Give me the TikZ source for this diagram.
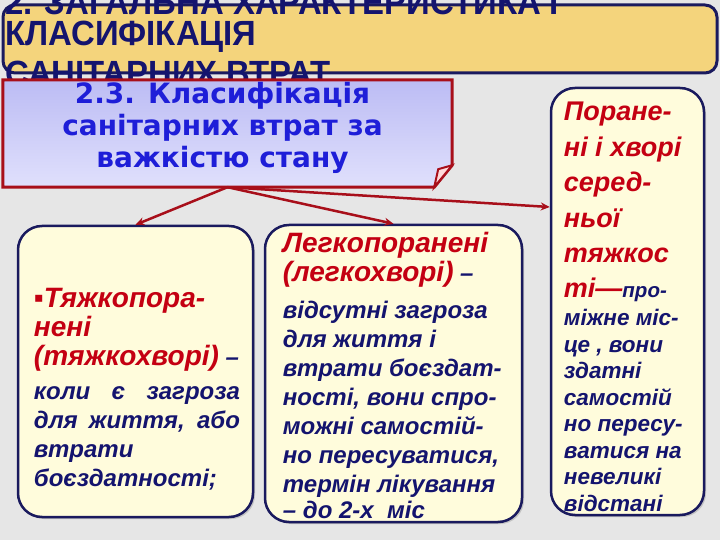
\documentclass[tikz,border=0pt]{standalone}
\usepackage{fontspec}
\usepackage{xcolor}
\usetikzlibrary{arrows.meta,calc,shadows}
\setmainfont{Liberation Sans}
\newfontfamily\titlefont[FakeStretch=0.94]{Liberation Sans}
\newfontfamily\headfont{DejaVu Sans}
\definecolor{bgray}{HTML}{E6E6E6}
\definecolor{gold}{HTML}{F4D47C}
\definecolor{navy}{HTML}{1A1A5E}
\definecolor{hblue}{HTML}{1E1ED8}
\definecolor{dred}{HTML}{A80F1A}
\definecolor{tred}{HTML}{C40012}
\definecolor{tnavy}{HTML}{14146E}
\definecolor{cream}{HTML}{FFFCDC}
\definecolor{lavtop}{HTML}{BCBCF4}
\definecolor{lavbot}{HTML}{E0E0FC}
\newcommand{\redtxt}[1]{{\color{tred}\fontsize{28}{29}\selectfont #1}}
\newcommand{\redsm}[1]{{\color{tred}\fontsize{27}{29}\selectfont #1}}

\begin{document}
\begin{tikzpicture}[x=1pt,y=-1pt,
  every node/.style={inner sep=0pt},
  card/.style={draw=navy,line width=2.5pt,fill=cream,rounded corners=24pt,
    drop shadow={shadow xshift=2pt,shadow yshift=-2pt,opacity=0.35}},
  cardtext/.style={anchor=north west,align=left,text=tnavy,
    font=\bfseries\itshape\fontsize{24}{29}\selectfont},
  link/.style={draw=dred,line width=2.5pt,-{Stealth[length=9pt,width=8pt]}}]
\clip (0,0) rectangle (720,540);
\fill[bgray] (0,0) rectangle (720,540);
% title bar
\node[draw=navy,line width=3pt,fill=gold,rounded corners=12pt,
  minimum width=714pt,minimum height=68pt] (ttl) at (360,39) {};
\node[anchor=north west,align=left,text=tnavy,
  font=\titlefont\bfseries\fontsize{35}{31}\selectfont] (ttltext) at (5,-10)
  {2. ЗАГАЛЬНА ХАРАКТЕРИСТИКА І\\КЛАСИФІКАЦІЯ\\[7pt]САНІТАРНИХ ВТРАТ};
% header with folded corner
\node[minimum width=449pt,minimum height=107pt] (hdr) at (227.5,133.5) {};
\path[draw=dred,line width=3pt,top color=lavtop,bottom color=lavbot]
  (hdr.north west) -- (hdr.north east) -- ([yshift=22pt]hdr.south east)
  -- ([xshift=-18pt]hdr.south east) -- (hdr.south west) -- cycle;
\path[draw=dred,line width=2pt,fill=pink!60!white]
  ([yshift=22pt]hdr.south east) -- ([shift={(-14pt,18pt)}]hdr.south east)
  -- ([xshift=-18pt]hdr.south east) -- cycle;
\node[align=center,text=hblue,font=\headfont\bfseries\fontsize{28}{32}\selectfont]
  (hdrtext) at ([shift={(-5,-6)}]hdr.center)
  {2.3. Класифікація\\санітарних втрат за\\важкістю стану};
% cards
\node[card,minimum width=235pt,minimum height=291pt] (heavy) at (135.5,371.5) {};
\node[card,minimum width=257pt,minimum height=297pt] (light) at (393.5,373.5) {};
\node[card,minimum width=153pt,minimum height=427pt] (mid) at (627.5,301.5) {};
\node[cardtext] (heavytext) at ([shift={(17,63)}]heavy.north west)
  {\redtxt{▪Тяжкопора-}\\\redtxt{нені}\\\redtxt{(тяжкохворі)} –\\[5pt]
   \makebox[206pt][s]{коли є загроза}\\\makebox[206pt][s]{для життя, або}\\
   втрати\\боєздатності;};
\node[cardtext] (lighttext) at ([shift={(19,8)}]light.north west)
  {\redtxt{Легкопоранені}\\\redtxt{(легкохворі)} –\\[8pt]
   відсутні загроза\\для життя і\\втрати боєздат-\\ності, вони спро-\\
   можні самостій-\\но пересуватися,\\термін лікування\\[-3pt]– до 2-х\ \ міс};
\node[cardtext,font=\bfseries\itshape\fontsize{22.5}{26.5}\selectfont] (midtext)
  at ([shift={(14,15)}]mid.north west)
  {\redsm{Поране-}\\[9pt]\redsm{ні і хворі}\\[9pt]\redsm{серед-}\\[9pt]
   \redsm{ньої}\\[9pt]\redsm{тяжкос}\\[8pt]
   \redsm{ті—}{\fontsize{20.5}{26}\selectfont про-}\\[2pt]
   міжне міс-\\це , вони\\здатні\\самостій\\но пересу-\\ватися на\\
   невеликі\\відстані};
% links
\draw[link] (hdr.south) -- (heavy.north);
\draw[link] (hdr.south) -- (light.north);
\draw[link] (hdr.south) -- ($(mid.north west)!0.28!(mid.south west)$);
\end{tikzpicture}
\end{document}
